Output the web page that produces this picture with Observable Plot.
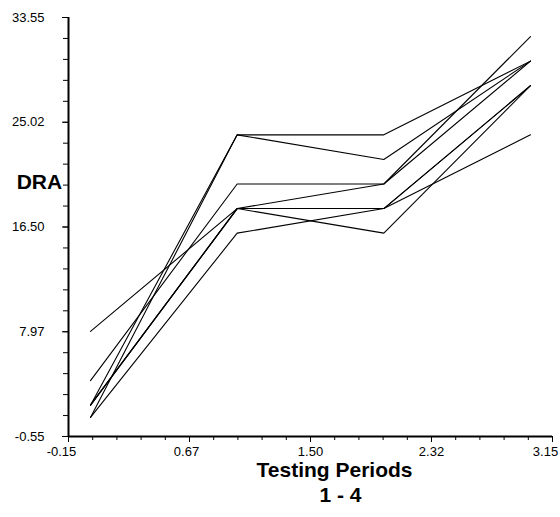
<!DOCTYPE html>
<html>
<head>
<meta charset="utf-8">
<script src="https://cdn.jsdelivr.net/npm/d3@7"></script>
<script src="https://cdn.jsdelivr.net/npm/@observablehq/plot@0.6"></script>
<style>
  html, body { margin: 0; padding: 0; background: white; }
</style>
</head>
<body>
<div id="chart"></div>
<script>
// Testing periods (x positions) and DRA scores per subject
const periods = [0, 1, 2, 3];
const subjects = ["S1", "S2", "S3", "S4", "S5", "S6", "S7", "S8"];
const s1 = [8, 18, 18, 28];
const s2 = [4, 20, 20, 32];
const s3 = [2, 24, 24, 30];
const s4 = [1, 24, 22, 30];
const s5 = [2, 18, 20, 30];
const s6 = [2, 18, 18, 28];
const s7 = [2, 18, 16, 28];
const s8 = [1, 16, 18, 24];
const seriesValues = [s1, s2, s3, s4, s5, s6, s7, s8];

// Axis tick values and their printed labels
const xTickValues = [-0.15, 0.675, 1.5, 2.325, 3.15];
const xTickLabels = ["-0.15", "0.67", "1.50", "2.32", "3.15"];
const yTickValues = [-0.55, 7.975, 16.5, 25.025, 33.55];
const yTickLabels = ["-0.55", "7.97", "16.50", "25.02", "33.55"];

const xTitle = "Testing Periods";
const xSubtitle = "1 - 4";
const yTitle = "DRA";

const data = subjects.flatMap((s, k) =>
  periods.map((p, i) => ({subject: s, period: p, dra: seriesValues[k][i]}))
);

const W = 560, H = 517, ML = 68, MR = 8, MT = 17, MB = 81;
const frameW = W - ML - MR, frameH = H - MT - MB;

const xDomain = [xTickValues[0], xTickValues[xTickValues.length - 1]];
const yDomain = [yTickValues[0], yTickValues[yTickValues.length - 1]];
const xMinor = d3.range(0, 21).map(i => xDomain[0] + i * (xDomain[1] - xDomain[0]) / 20);
const yMinor = d3.range(0, 21).map(i => yDomain[0] + i * (yDomain[1] - yDomain[0]) / 20);
const xLab = v => xTickLabels[xTickValues.indexOf(v)];
const yLab = v => yTickLabels[yTickValues.indexOf(v)];

const xLabelOpts = (dx) => ({x: d => d, text: xLab, frameAnchor: "bottom", lineAnchor: "top", dy: 10, dx, fontSize: 13, fill: "black"});

const chart = Plot.plot({
  width: W,
  height: H,
  marginLeft: ML,
  marginRight: MR,
  marginTop: MT,
  marginBottom: MB,
  style: {fontFamily: "'Liberation Sans', Arial, sans-serif", fontSize: "13px", background: "white", color: "black"},
  x: {domain: xDomain, axis: null},
  y: {domain: yDomain, axis: null},
  marks: [
    Plot.line(data, {x: "period", y: "dra", z: "subject", stroke: "black", strokeWidth: 1.1}),
    // minor ticks
    Plot.ruleX(xMinor, {x: d => d, stroke: "black", strokeWidth: 1, insetTop: frameH, insetBottom: -4}),
    Plot.ruleY(yMinor, {y: d => d, stroke: "black", strokeWidth: 1, insetLeft: -5, insetRight: frameW}),
    // major ticks
    Plot.ruleX(xTickValues, {x: d => d, stroke: "black", strokeWidth: 1, insetTop: frameH, insetBottom: -6}),
    Plot.ruleY(yTickValues, {y: d => d, stroke: "black", strokeWidth: 1, insetLeft: -6, insetRight: frameW}),
    // tick labels
    Plot.text([xTickValues[0]], xLabelOpts(-7)),
    Plot.text([xTickValues[1]], xLabelOpts(-3)),
    Plot.text(xTickValues.slice(2, 4), xLabelOpts(0)),
    Plot.text([xTickValues[4]], xLabelOpts(-7)),
    Plot.text(yTickValues, {y: d => d, text: yLab, frameAnchor: "left", textAnchor: "end", dx: -24, fontSize: 13, fill: "black"}),
    // axis lines
    Plot.ruleY([yDomain[0]], {stroke: "black", strokeWidth: 2}),
    Plot.ruleX([xDomain[0]], {stroke: "black", strokeWidth: 2}),
    // titles
    Plot.text([xTitle], {text: d => d, frameAnchor: "bottom", dx: 24, dy: 40.6, fontSize: 21, fontWeight: "bold", fill: "black"}),
    Plot.text([xSubtitle], {text: d => d, frameAnchor: "bottom", dx: 30, dy: 65.6, fontSize: 21, fontWeight: "bold", fill: "black"}),
    Plot.text([yTitle], {text: d => d, frameAnchor: "left", textAnchor: "end", dx: -6.3, dy: -44.9, fontSize: 21, fontWeight: "bold", fill: "black"})
  ]
});
document.getElementById("chart").appendChild(chart);
</script>
</body>
</html>
